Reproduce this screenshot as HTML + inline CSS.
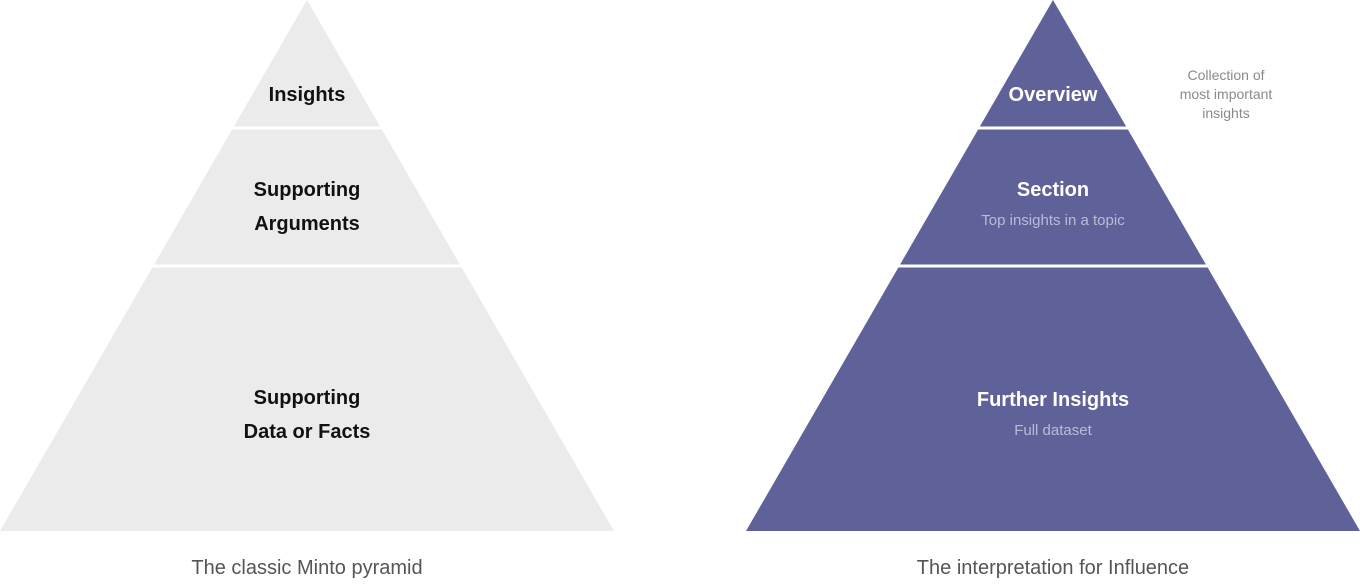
<!DOCTYPE html>
<html><head><meta charset="utf-8">
<style>
html,body{margin:0;padding:0;background:#fff;width:1360px;height:584px;overflow:hidden}
svg{display:block}
text{font-family:"Liberation Sans",sans-serif}
</style></head>
<body>
<svg id="chart" width="1360" height="584" viewBox="0 0 1360 584"></svg>
<script>
const leftTitles = [["Insights"], ["Supporting","Arguments"], ["Supporting","Data or Facts"]];
const rightTitles = ["Overview", "Section", "Further Insights"];
const rightSubs = ["", "Top insights in a topic", "Full dataset"];
const tierBreaks = [0, 128, 266, 531];

const NS = "http://www.w3.org/2000/svg";
const svg = document.getElementById("chart");
function mk(tag, attrs){const e=document.createElementNS(NS,tag);for(const k in attrs)e.setAttribute(k,attrs[k]);svg.appendChild(e);return e;}
function txt(x,y,s,size,weight,fill){const t=mk("text",{x:x,y:y,"text-anchor":"middle","font-size":size,"font-weight":weight,fill:fill});t.textContent=s;return t;}

function pyramid(cx, color, side){
  const H = 531, half = 307;
  const xAt = y => half * y / H;
  for(let i=0;i<3;i++){
    const y0 = tierBreaks[i] + (i>0?1.5:0), y1 = tierBreaks[i+1] - (i<2?1.5:0);
    const p = mk("polygon",{points:`${cx-xAt(y0)},${y0} ${cx+xAt(y0)},${y0} ${cx+xAt(y1)},${y1} ${cx-xAt(y1)},${y1}`,fill:color});
    
    
  }
}
pyramid(307, "#ebebeb", "minto");
pyramid(1053, "#5f6199", "influence");

const leftY = [[101],[196,230],[404,438]];
leftTitles.forEach((lines,i)=>lines.forEach((s,j)=>{
  const t = txt(307, leftY[i][j], s, 20, "bold", "#111");
  
  
}));
const rightY = [101,196,406];
rightTitles.forEach((s,i)=>{
  const t = txt(1053, rightY[i], s, 20, "bold", "#fff");
  
  
  if(rightSubs[i]){
    const u = txt(1053, rightY[i]+29, rightSubs[i], 15, "normal", "#babcd7");
    
    
  }
});
["Collection of","most important","insights"].forEach((s,i)=>{
  const t = txt(1226, 80+i*19, s, 14, "normal", "#8a8a8a");
  
  
});
const c1 = txt(307, 574, "The classic Minto pyramid", 20, "normal", "#555");


const c2 = txt(1053, 574, "The interpretation for Influence", 20, "normal", "#555");


</script>
</body></html>
